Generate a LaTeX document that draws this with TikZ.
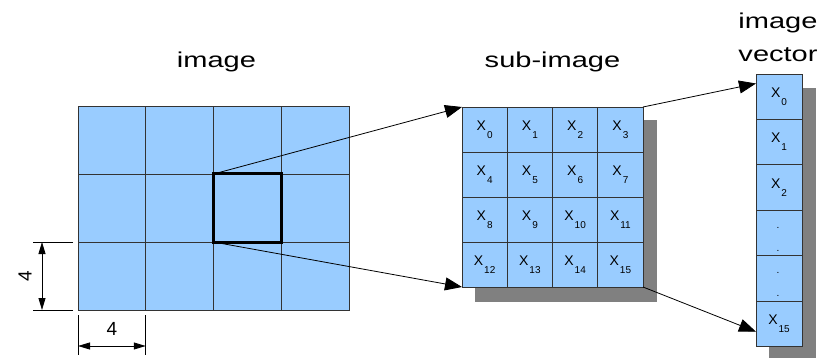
\documentclass[tikz,border=0pt]{standalone}
\usepackage{fontspec}
\setmainfont{Liberation Sans}
\newfontfamily\widefont[FakeStretch=1.35]{Liberation Sans}
\usetikzlibrary{arrows.meta,backgrounds}

\definecolor{cellblue}{HTML}{99CCFF}
\definecolor{shadowgray}{HTML}{808080}

\newcommand\xsub[1]{X\kern1pt\raisebox{-8pt}{\fontsize{10}{10}\selectfont #1}}

\begin{document}
\begin{tikzpicture}[x=1pt, y=-1pt,
  cell/.style={draw=black!80, fill=cellblue, line width=0.9pt, inner sep=0pt, outer sep=0pt, anchor=north west},
  imgcell/.style={cell, minimum width=67.75pt, minimum height=68pt},
  subcell/.style={cell, minimum width=45.25pt, minimum height=45pt, font=\fontsize{14}{14}\selectfont},
  veccell/.style={cell, minimum width=46pt, minimum height=45.45pt, font=\fontsize{14}{14}\selectfont},
  dotmark/.style={anchor=base, inner sep=0pt, font=\fontsize{10}{10}\selectfont},
  title/.style={font=\widefont\fontsize{21.5}{33}\selectfont, align=center},
  link/.style={-{Triangle[length=17pt,width=13pt]}, line width=0.8pt},
  dim/.style={{Triangle[length=12pt,width=7pt]}-{Triangle[length=12pt,width=7pt]}, line width=0.8pt},
  ]
  \useasboundingbox (0,0) rectangle (835,358);

  \node[title, anchor=base] (imgtitle) at (216.5,68) {image};
  \node[title, anchor=base] (subtitle) at (552.5,68) {sub-image};
  \node[title, anchor=base] (vectitle) at (778,62) {image\\vector};

  \foreach \r in {1,2,3}
    \foreach \c in {1,...,4}
      \node[imgcell] (img-\r-\c) at ({78+(\c-1)*67.75},{106+(\r-1)*68}) {};
  \draw[line width=3pt] (img-2-3.north west) rectangle (img-2-3.south east);

  \foreach \r in {1,...,4}
    \foreach \c in {1,...,4} {
      \pgfmathtruncatemacro\k{(\r-1)*4+\c-1}
      \node[subcell] (sub-\r-\c) at ({462+(\c-1)*45.25},{107+(\r-1)*45}) {\xsub{\k}};
    }

  \foreach \i/\t in {0/\xsub{0},1/\xsub{1},2/\xsub{2},3/{},4/{},5/\xsub{15}}
    \node[veccell] (vec-\i) at (756,{74+\i*45.45}) {\t};
  \foreach \i in {3,4} {
    \node[dotmark] (dot-\i-a) at ([xshift=-1pt,yshift=-18pt]vec-\i.north) {.};
    \node[dotmark] (dot-\i-b) at ([xshift=-1pt,yshift=-41pt]vec-\i.north) {.};
  }

  \begin{scope}[on background layer]
    \fill[shadowgray] ([shift={(13,13)}]sub-1-1.north west) rectangle ([shift={(14,15)}]sub-4-4.south east);
    \fill[shadowgray] ([shift={(13,14)}]vec-0.north west) rectangle ([shift={(14,14)}]vec-5.south east);
  \end{scope}

  \draw[link] (img-2-3.north west) -- (sub-1-1.north west);
  \draw[link] (img-2-3.south west) -- (sub-4-1.south west);
  \draw[link] (sub-1-4.north east) -- ([yshift=-9.5pt]vec-0.north west);
  \draw[link] (sub-4-4.south east) -- ([yshift=15pt]vec-5.south west);

  \draw[line width=0.8pt] ([xshift=-5pt]img-3-1.north west) -- ([xshift=-45pt]img-3-1.north west);
  \draw[line width=0.8pt] ([xshift=-5pt]img-3-1.south west) -- ([xshift=-45pt]img-3-1.south west);
  \draw[dim] ([xshift=-36pt]img-3-1.north west) -- ([xshift=-36pt]img-3-1.south west);
  \node[rotate=90, font=\fontsize{19}{19}\selectfont] (dimleft) at ([xshift=-53pt]img-3-1.west) {4};

  \draw[line width=0.8pt] ([yshift=-5pt]img-3-1.south west) -- ([yshift=-45pt]img-3-1.south west);
  \draw[line width=0.8pt] ([yshift=-5pt]img-3-1.south east) -- ([yshift=-45pt]img-3-1.south east);
  \draw[dim] ([yshift=-36pt]img-3-1.south west) -- ([yshift=-36pt]img-3-1.south east);
  \node[font=\fontsize{19}{19}\selectfont] (dimbottom) at ([yshift=-19pt]img-3-1.south) {4};
\end{tikzpicture}
\end{document}
